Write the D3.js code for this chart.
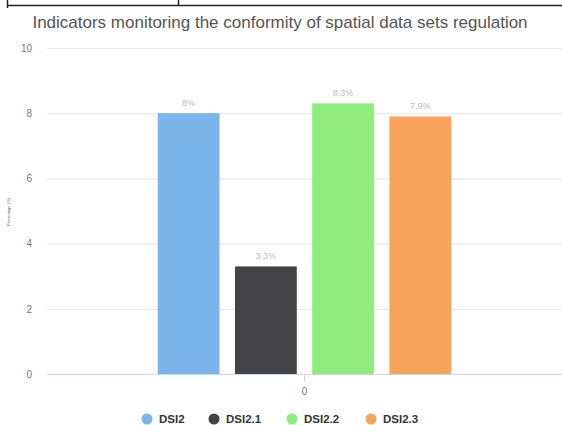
<!DOCTYPE html>
<html>
<head>
<meta charset="utf-8">
<script src="https://cdn.jsdelivr.net/npm/d3@7"></script>
<style>
    body { margin: 0; background: #fff; }
    svg { display: block; font-family: 'Liberation Sans', Arial, sans-serif; }
</style>
</head>
<body>
<svg id="chart" width="562" height="425"></svg>
<script>
const CATEGORIES = ['0'];
const SERIES = ['DSI2', 'DSI2.1', 'DSI2.2', 'DSI2.3'];
const VALUES = [8, 3.3, 8.3, 7.9];
const LABELS = ['8%', '3.3%', '8.3%', '7.9%'];
const COLORS = ['#7cb5ec', '#434348', '#90ed7d', '#f7a35c'];
const Y_TICKS = [0, 2, 4, 6, 8, 10];

const svg = d3.select('#chart');
const margin = { left: 47, right: 0, top: 48, bottom: 51 };
const width = 562, height = 425;

// bit of table border left over at the top of the screenshot
svg.append('path')
    .attr('d', 'M7.5,0V8M7.5,5.5H562M178.5,0V5.5')
    .attr('fill', 'none')
    .attr('stroke', '#222')
    .attr('stroke-width', 1.5);

svg.append('text')
    .attr('x', 280)
    .attr('y', 28)
    .attr('text-anchor', 'middle')
    .attr('fill', '#555')
    .style('font-size', '17px')
    .text('Indicators monitoring the conformity of spatial data sets regulation');

const y = d3.scaleLinear().domain([0, 10]).range([height - margin.bottom, margin.top]);
const x0 = d3.scaleBand().domain(CATEGORIES).range([margin.left, width - margin.right]);
const groupPad = 0.2 * x0.bandwidth();
const x1 = d3.scaleBand().domain(SERIES)
    .range([groupPad, x0.bandwidth() - groupPad])
    .paddingInner(0.2).paddingOuter(0.1);

// gridlines + y labels
const yAxis = svg.append('g')
    .attr('transform', `translate(${margin.left},0)`)
    .call(d3.axisLeft(y).tickValues(Y_TICKS).tickSize(-(width - margin.left - margin.right)).tickPadding(15));
yAxis.select('.domain').remove();
yAxis.selectAll('.tick line').attr('stroke', '#e6e6e6');
yAxis.selectAll('.tick text').attr('fill', '#777').style('font-size', '10px');

// tiny y title, unreadable in the reference
svg.append('text')
    .attr('transform', 'translate(10,212) rotate(-90)')
    .attr('text-anchor', 'middle')
    .attr('fill', '#666')
    .style('font-size', '4px')
    .text('Percentage (%)');

// x axis
const xAxis = svg.append('g')
    .attr('transform', `translate(0,${y(0)})`)
    .call(d3.axisBottom(x0).tickSize(8).tickSizeOuter(0).tickPadding(6));
xAxis.select('.domain').attr('stroke', '#ccd6eb');
xAxis.selectAll('.tick line').attr('stroke', '#ccd6eb');
xAxis.selectAll('.tick text').attr('fill', '#777').style('font-size', '10px');

const group = svg.append('g').attr('transform', `translate(${x0(CATEGORIES[0])},0)`);

group.selectAll('rect')
    .data(SERIES)
    .enter()
    .append('rect')
    .attr('x', d => x1(d))
    .attr('width', x1.bandwidth())
    .attr('y', (d, i) => y(VALUES[i]))
    .attr('height', (d, i) => y(0) - y(VALUES[i]))
    .attr('fill', (d, i) => COLORS[i]);

group.selectAll('text.val')
    .data(SERIES)
    .enter()
    .append('text')
    .attr('class', 'val')
    .attr('x', d => x1(d) + x1.bandwidth() / 2)
    .attr('y', (d, i) => y(VALUES[i]) - 7)
    .attr('text-anchor', 'middle')
    .attr('fill', '#bbb')
    .style('font-size', '9px')
    .text((d, i) => LABELS[i]);

// legend
const legendX = [147, 214, 292, 371];
const legend = svg.append('g').selectAll('g')
    .data(SERIES)
    .enter()
    .append('g')
    .attr('transform', (d, i) => `translate(${legendX[i]},419)`);
legend.append('circle')
    .attr('r', 5.5)
    .attr('fill', (d, i) => COLORS[i]);
legend.append('text')
    .attr('x', 12)
    .attr('y', 4)
    .attr('fill', '#333')
    .style('font-size', '11.5px')
    .style('font-weight', 'bold')
    .text(d => d);
</script>
</body>
</html>
